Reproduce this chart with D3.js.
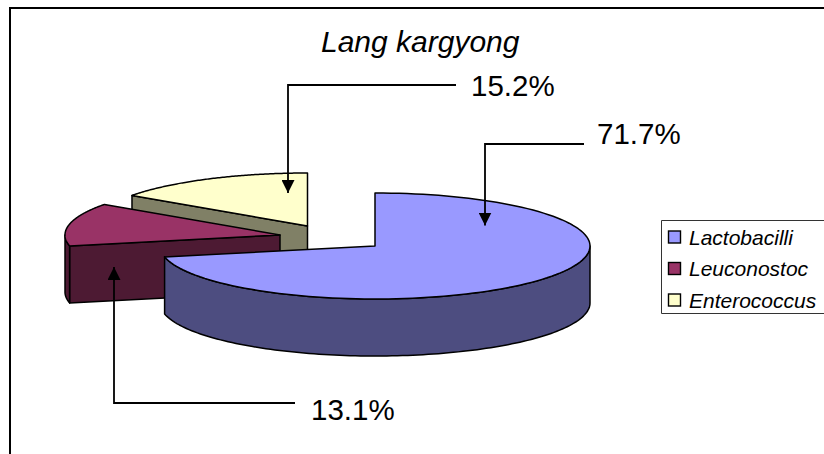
<!DOCTYPE html>
<html>
<head>
<meta charset="utf-8">
<script src="https://cdnjs.cloudflare.com/ajax/libs/d3/7.8.5/d3.min.js"></script>
<style>
html,body{margin:0;padding:0;background:#fff;overflow:hidden}
svg{display:block}
text{font-family:"Liberation Sans",Arial,sans-serif;fill:#000}
</style>
</head>
<body>
<svg id="chart" width="824" height="454"></svg>
<script>
const title = "Lang kargyong";
const categories = ["Lactobacilli", "Leuconostoc", "Enterococcus"];
const shares = [71.7, 13.1, 15.2];
const topColors = ["#9999ff", "#993366", "#ffffcc"];
const sideColors = ["#4d4d80", "#4d1a33", "#808066"];
const hubs = [[375, 246], [280, 235], [307.5, 226]];
const callouts = [
  {label: "71.7%", pts: [[584, 144], [485, 144], [485, 225.5]], tx: 597, ty: 143.5},
  {label: "13.1%", pts: [[295, 403], [114, 403], [114, 267]], tx: 311, ty: 420},
  {label: "15.2%", pts: [[456, 85], [288, 85], [288, 193]], tx: 471, ty: 96}
];

const W = 824, H = 454;
const rx = 215, ry = 53, depth = 57;
const svg = d3.select("#chart");

svg.append("path")
  .attr("d", `M${W},8H10V${H}`)
  .attr("fill", "none").attr("stroke", "#000").attr("stroke-width", 2);

svg.append("text").attr("x", 321).attr("y", 52)
  .attr("font-size", 30).attr("font-style", "italic").text(title);

// Clockwise from twelve o'clock, in the order of the categories.
const arcs = d3.pie().sort(null).value(d => d)(shares);
const pt = (i, a, drop = 0) => [
  hubs[i][0] + rx * Math.sin(a),
  hubs[i][1] - ry * Math.cos(a) + drop
];
const rim = (i, a0, a1, drop = 0) => d3.range(0, 121).map(k =>
  pt(i, a0 + (a1 - a0) * k / 120, drop));
const line = d3.line();
const outline = {stroke: "#000", "stroke-width": 1.5, "stroke-linejoin": "round"};
const shape = (d, fill) => {
  const p = svg.append("path").attr("d", d).attr("fill", fill);
  Object.entries(outline).forEach(([k, v]) => p.attr(k, v));
};
const quad = (i, a, b) => line([a, b, [b[0], b[1] + depth], [a[0], a[1] + depth]]) + "Z";

// Far wedges first, so the large slice ends up on top.
[2, 1, 0].forEach(i => {
  const a0 = arcs[i].startAngle, a1 = arcs[i].endAngle;
  const hub = hubs[i];
  if (i === 2) {
    shape(quad(i, pt(i, a0), hub), sideColors[i]);
  }
  if (i === 1) {
    shape(quad(i, pt(i, a0), hub), sideColors[i]);
    const wallEnd = 1.5 * Math.PI;
    shape(line([...rim(i, a0, wallEnd), ...rim(i, wallEnd, a0, depth)]) + "Z", sideColors[i]);
  }
  if (i === 0) {
    const wall0 = Math.PI / 2;
    shape(line([...rim(i, wall0, a1), ...rim(i, a1, wall0, depth)]) + "Z", sideColors[i]);
  }
  shape(line([hub, ...rim(i, a0, a1)]) + "Z", topColors[i]);
});

// Leader lines with solid arrow heads.
const defs = svg.append("defs");
defs.append("marker").attr("id", "head")
  .attr("viewBox", "0 0 13 13").attr("refX", 13).attr("refY", 6.5)
  .attr("markerUnits", "userSpaceOnUse").attr("markerWidth", 13).attr("markerHeight", 13)
  .attr("orient", "auto")
  .append("path").attr("d", "M0,0L13,6.5L0,13Z").attr("fill", "#000");

callouts.forEach(c => {
  svg.append("path").attr("d", line(c.pts))
    .attr("fill", "none").attr("stroke", "#000").attr("stroke-width", 1.8)
    .attr("marker-end", "url(#head)");
  svg.append("text").attr("x", c.tx).attr("y", c.ty).attr("font-size", 29.5).text(c.label);
});

// Legend
const legendY = d3.scalePoint().domain(categories).range([237, 300]);
svg.append("path").attr("d", `M${W},220.5H661.5V313.5H${W}`)
  .attr("fill", "#fff").attr("stroke", "#333").attr("stroke-width", 1);
categories.forEach((name, i) => {
  const y = legendY(name);
  svg.append("rect").attr("x", 668.5).attr("y", y - 6).attr("width", 12).attr("height", 12)
    .attr("fill", topColors[i]).attr("stroke", "#000").attr("stroke-width", 1.4);
  svg.append("text").attr("x", 689).attr("y", y + 7.5)
    .attr("font-size", 21).attr("font-style", "italic").text(name);
});
</script>
</body>
</html>
